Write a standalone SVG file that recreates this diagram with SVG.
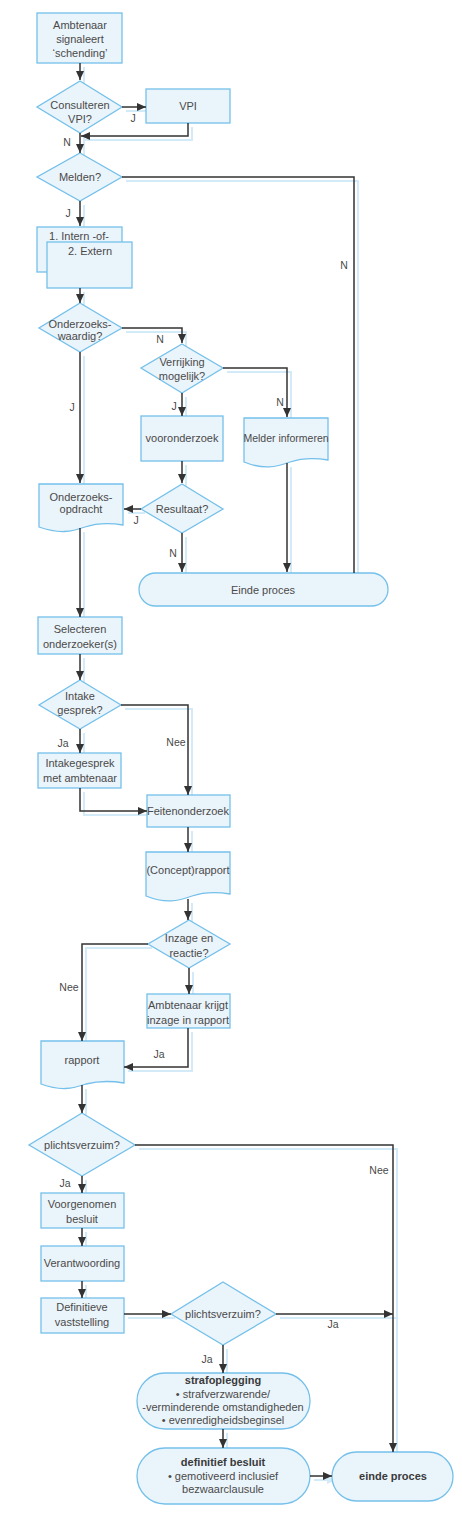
<svg xmlns="http://www.w3.org/2000/svg" xmlns:xlink="http://www.w3.org/1999/xlink" width="462" height="1532" viewBox="0 0 462 1532">
<style>
.n{fill:#eaf4fb;stroke:#74c0ea;stroke-width:1.3}
.t{font-family:"Liberation Sans",Arial,sans-serif;font-size:11px;fill:#4a4a4a;text-anchor:middle}
.b{font-weight:bold;fill:#3a3a3a}
.l{font-family:"Liberation Sans",Arial,sans-serif;font-size:10.5px;fill:#4a4a4a;text-anchor:middle}
.c{fill:none;stroke:#333;stroke-width:1.5}
.s{fill:none;stroke:#d3eaf8;stroke-width:2}
</style>
<defs>
<marker id="ah" markerUnits="userSpaceOnUse" markerWidth="10" markerHeight="9" refX="9" refY="4" orient="auto"><path d="M0,0 L9,4 L0,8 z" fill="#333"/></marker>
<marker id="sh" markerUnits="userSpaceOnUse" markerWidth="10" markerHeight="9" refX="9" refY="4" orient="auto"><path d="M0,0 L9,4 L0,8 z" fill="#d3eaf8"/></marker>
</defs>
<rect width="462" height="1532" fill="#fff"/>
<g id="shadows" transform="translate(4,4)">
<path class="s" marker-end="url(#sh)" d="M80,63 V80 M122,107 H146 M80,133 V153 M80,201 V226 M80,288 V303 M80,352 V483 M182,393 V416 M182,461 V483 M182,533 V572 M287,463 V572 M80,528 V617 M80,654 V680 M80,729 V753 M188,827 V852 M188,899 V920 M189,968 V994 M82,1085 V1113 M82,1176 V1193 M82,1228 V1246 M82,1281 V1298 M124,1314 H171 M276,1314 H393 M223,1345 V1373 M223,1429 V1448 M310,1476 H332"/>
<path class="s" d="M188,123 V136 H81"/>
<path class="s" d="M122,177 H354 V573"/>
<path class="s" d="M122,328 H182 V343"/>
<path class="s" d="M223,368 H287 V417"/>
<path class="s" d="M141,509 H124"/>
<path class="s" d="M121,705 H188 V795"/>
<path class="s" d="M80,788 V811 H147"/>
<path class="s" d="M148,944 H82 V1041"/>
<path class="s" d="M188,1028 V1067 H124"/>
<path class="s" d="M135,1145 H393 V1452"/>
</g>
<g id="n1"><rect class="n" x="37" y="13" width="85" height="50"/><text class="t" x="80" y="29">Ambtenaar</text><text class="t" x="80" y="43">signaleert</text><text class="t" x="80" y="57">‘schending’</text></g>
<g id="n2"><path class="n" d="M80,81 L122,107 L80,133 L37,107 z"/><text class="t" x="80" y="109">Consulteren</text><text class="t" x="80" y="123">VPI?</text></g>
<g id="n3"><rect class="n" x="146" y="89" width="84" height="34"/><text class="t" x="188" y="110">VPI</text></g>
<g id="n4"><path class="n" d="M80,153 L122,177 L80,201 L37,177 z"/><text class="t" x="80" y="181">Melden?</text></g>
<g id="n5"><rect class="n" x="37" y="227" width="85" height="45"/><text class="t" x="79" y="240">1. Intern -of-</text><rect class="n" x="47" y="242" width="85" height="46"/><text class="t" x="90" y="255">2. Extern</text></g>
<g id="n6"><path class="n" d="M80,303 L122,328 L80,352 L39,328 z"/><text class="t" x="80" y="328">Onderzoeks-</text><text class="t" x="80" y="340">waardig?</text></g>
<g id="n7"><path class="n" d="M182,344 L223,368 L182,393 L141,368 z"/><text class="t" x="182" y="366">Verrijking</text><text class="t" x="182" y="380">mogelijk?</text></g>
<g id="n8"><rect class="n" x="141" y="416" width="82" height="45"/><text class="t" x="182" y="442">vooronderzoek</text></g>
<g id="n9"><path class="n" d="M244,418 H328 V460 C316,458 302,458 290,462 C276,467 264,470 244,462 z"/><text class="t" x="286" y="442" style="font-size:10.5px">Melder informeren</text></g>
<g id="n10"><path class="n" d="M182,484 L223,509 L182,533 L141,509 z"/><text class="t" x="182" y="513">Resultaat?</text></g>
<g id="n11"><rect class="n" x="139" y="573" width="249" height="33" rx="16.5"/><text class="t" x="263" y="594">Einde proces</text></g>
<g id="n12"><path class="n" d="M39,484 H123 V525 C111,523 97,523 85,527 C71,532 59,534 39,527 z"/><text class="t" x="81" y="501">Onderzoeks-</text><text class="t" x="81" y="513">opdracht</text></g>
<g id="n13"><rect class="n" x="38" y="617" width="84" height="37"/><text class="t" x="80" y="633">Selecteren</text><text class="t" x="80" y="648">onderzoeker(s)</text></g>
<g id="n14"><path class="n" d="M80,680 L121,705 L80,729 L39,705 z"/><text class="t" x="80" y="700">Intake</text><text class="t" x="80" y="714">gesprek?</text></g>
<g id="n15"><rect class="n" x="38" y="753" width="83" height="35"/><text class="t" x="80" y="767">Intakegesprek</text><text class="t" x="80" y="782">met ambtenaar</text></g>
<g id="n16"><rect class="n" x="147" y="795" width="83" height="32"/><text class="t" x="188" y="815">Feitenonderzoek</text></g>
<g id="n17"><path class="n" d="M146,852 H230 V894 C218,892 204,892 192,896 C178,901 166,904 146,896 z"/><text class="t" x="188" y="874">(Concept)rapport</text></g>
<g id="n18"><path class="n" d="M189,920 L230,944 L189,968 L148,944 z"/><text class="t" x="189" y="942">Inzage en</text><text class="t" x="189" y="957">reactie?</text></g>
<g id="n19"><rect class="n" x="147" y="994" width="83" height="34"/><text class="t" x="188" y="1009">Ambtenaar krijgt</text><text class="t" x="188" y="1024">inzage in rapport</text></g>
<g id="n20"><path class="n" d="M41,1041 H124 V1083 C112,1081 98,1081 86,1084 C72,1089 60,1091 41,1084 z"/><text class="t" x="82" y="1064">rapport</text></g>
<g id="n21"><path class="n" d="M82,1113 L135,1145 L82,1176 L29,1145 z"/><text class="t" x="82" y="1149">plichtsverzuim?</text></g>
<g id="n22"><rect class="n" x="41" y="1193" width="83" height="35"/><text class="t" x="82" y="1208">Voorgenomen</text><text class="t" x="82" y="1223">besluit</text></g>
<g id="n23"><rect class="n" x="41" y="1246" width="83" height="35"/><text class="t" x="82" y="1267">Verantwoording</text></g>
<g id="n24"><rect class="n" x="41" y="1298" width="83" height="35"/><text class="t" x="82" y="1311">Definitieve</text><text class="t" x="82" y="1326">vaststelling</text></g>
<g id="n25"><path class="n" d="M223,1282 L276,1314 L223,1345 L171,1314 z"/><text class="t" x="223" y="1318">plichtsverzuim?</text></g>
<g id="n26"><rect class="n" x="137" y="1373" width="173" height="56" rx="28"/><text class="t b" x="223" y="1384">strafoplegging</text><text class="t" x="223" y="1398">• strafverzwarende/</text><text class="t" x="223" y="1411">-verminderende omstandigheden</text><text class="t" x="223" y="1424">• evenredigheidsbeginsel</text></g>
<g id="n27"><rect class="n" x="137" y="1448" width="173" height="56" rx="28"/><text class="t b" x="223" y="1466">definitief besluit</text><text class="t" x="223" y="1480">• gemotiveerd inclusief</text><text class="t" x="223" y="1493">bezwaarclausule</text></g>
<g id="n28"><rect class="n" x="332" y="1452" width="121" height="49" rx="24.5"/><text class="t b" x="393" y="1480">einde proces</text></g>
<g id="connectors">
<path class="c" marker-end="url(#ah)" d="M80,63 V80"/>
<path class="c" marker-end="url(#ah)" d="M122,107 H146"/>
<path class="c" marker-end="url(#ah)" d="M188,123 V136 H81"/>
<path class="c" marker-end="url(#ah)" d="M80,133 V153"/>
<path class="c" d="M122,177 H354 V573"/>
<path class="c" marker-end="url(#ah)" d="M80,201 V226"/>
<path class="c" marker-end="url(#ah)" d="M80,288 V303"/>
<path class="c" marker-end="url(#ah)" d="M122,328 H182 V343"/>
<path class="c" marker-end="url(#ah)" d="M80,352 V483"/>
<path class="c" marker-end="url(#ah)" d="M223,368 H287 V417"/>
<path class="c" marker-end="url(#ah)" d="M182,393 V416"/>
<path class="c" marker-end="url(#ah)" d="M182,461 V483"/>
<path class="c" marker-end="url(#ah)" d="M141,509 H124"/>
<path class="c" marker-end="url(#ah)" d="M182,533 V572"/>
<path class="c" marker-end="url(#ah)" d="M287,463 V572"/>
<path class="c" marker-end="url(#ah)" d="M80,528 V617"/>
<path class="c" marker-end="url(#ah)" d="M80,654 V680"/>
<path class="c" marker-end="url(#ah)" d="M121,705 H188 V795"/>
<path class="c" marker-end="url(#ah)" d="M80,729 V753"/>
<path class="c" marker-end="url(#ah)" d="M80,788 V811 H147"/>
<path class="c" marker-end="url(#ah)" d="M188,827 V852"/>
<path class="c" marker-end="url(#ah)" d="M188,899 V920"/>
<path class="c" marker-end="url(#ah)" d="M148,944 H82 V1041"/>
<path class="c" marker-end="url(#ah)" d="M189,968 V994"/>
<path class="c" marker-end="url(#ah)" d="M188,1028 V1067 H124"/>
<path class="c" marker-end="url(#ah)" d="M82,1085 V1113"/>
<path class="c" marker-end="url(#ah)" d="M135,1145 H393 V1452"/>
<path class="c" marker-end="url(#ah)" d="M82,1176 V1193"/>
<path class="c" marker-end="url(#ah)" d="M82,1228 V1246"/>
<path class="c" marker-end="url(#ah)" d="M82,1281 V1298"/>
<path class="c" marker-end="url(#ah)" d="M124,1314 H171"/>
<path class="c" marker-end="url(#ah)" d="M276,1314 H393"/>
<path class="c" marker-end="url(#ah)" d="M223,1345 V1373"/>
<path class="c" marker-end="url(#ah)" d="M223,1429 V1448"/>
<path class="c" marker-end="url(#ah)" d="M310,1476 H332"/>
<text class="l" x="133" y="122">J</text>
<text class="l" x="67" y="146">N</text>
<text class="l" x="344" y="269">N</text>
<text class="l" x="68" y="217">J</text>
<text class="l" x="160" y="343">N</text>
<text class="l" x="72" y="411">J</text>
<text class="l" x="280" y="406">N</text>
<text class="l" x="174" y="410">J</text>
<text class="l" x="136" y="524">J</text>
<text class="l" x="173" y="557">N</text>
<text class="l" x="176" y="746">Nee</text>
<text class="l" x="63" y="747">Ja</text>
<text class="l" x="69" y="991">Nee</text>
<text class="l" x="159" y="1058">Ja</text>
<text class="l" x="379" y="1174">Nee</text>
<text class="l" x="65" y="1187">Ja</text>
<text class="l" x="333" y="1328">Ja</text>
<text class="l" x="207" y="1363">Ja</text>
</g>
</svg>
